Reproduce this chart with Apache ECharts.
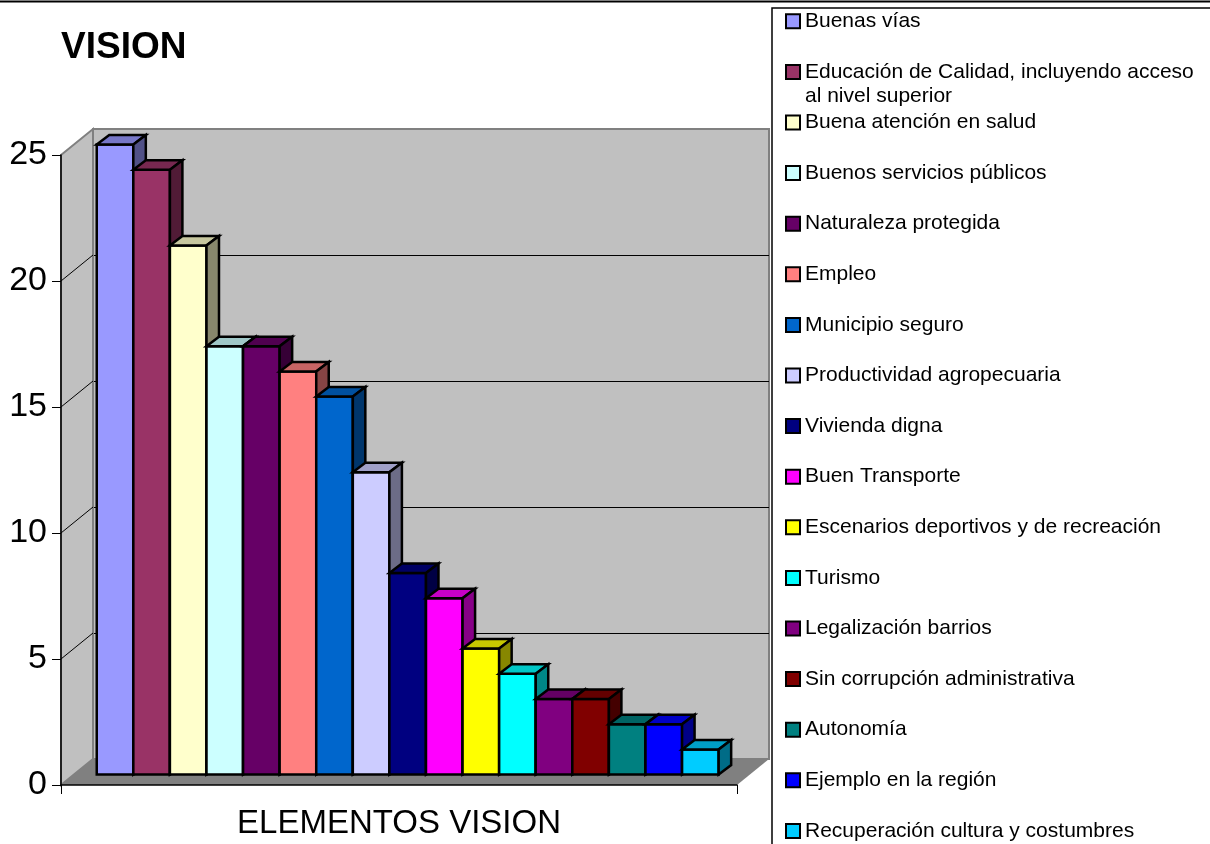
<!DOCTYPE html>
<html>
<head>
<meta charset="utf-8">
<title>VISION</title>
<script src="https://cdn.jsdelivr.net/npm/echarts@6/dist/echarts.min.js"></script>
<style>
html, body { margin: 0; padding: 0; background: #fff; }
#chart { width: 1210px; height: 844px; }
</style>
</head>
<body>
<div id="chart"></div>
<script>
// data
const CATEGORY = ['ELEMENTOS VISION'];
const NAMES = [
  'Buenas vías',
  'Educación de Calidad, incluyendo acceso al nivel superior',
  'Buena atención en salud',
  'Buenos servicios públicos',
  'Naturaleza protegida',
  'Empleo',
  'Municipio seguro',
  'Productividad agropecuaria',
  'Vivienda digna',
  'Buen Transporte',
  'Escenarios deportivos y de recreación',
  'Turismo',
  'Legalización barrios',
  'Sin corrupción administrativa',
  'Autonomía',
  'Ejemplo en la región',
  'Recuperación cultura y costumbres'
];
const VALUES = [25, 24, 21, 17, 17, 16, 15, 12, 8, 7, 5, 4, 3, 3, 2, 2, 1];
const Y_GRID = [5, 10, 15, 20];

const COLORS = ['#9999FF', '#993366', '#FFFFCC', '#CCFFFF', '#660066', '#FF8080', '#0066CC', '#CCCCFF',
  '#000080', '#FF00FF', '#FFFF00', '#00FFFF', '#800080', '#800000', '#008080', '#0000FF', '#00CCFF'];

const FONT = "'Liberation Sans', Arial, sans-serif";
const DEPTH = [32, -26];        // wall depth (oblique projection)
const BAR_FRONT = [8.7, -10.4]; // bars sit a bit behind the front edge
const BAR_DEPTH = [12.5, -9.5];
const BAR_SHARE = 0.92;

function shade(hex, k) {
  const n = parseInt(hex.slice(1), 16);
  const r = Math.round(((n >> 16) & 255) * k);
  const g = Math.round(((n >> 8) & 255) * k);
  const b = Math.round((n & 255) * k);
  return 'rgb(' + r + ',' + g + ',' + b + ')';
}

function wrap(name, maxChars) {
  const lines = [];
  let cur = '';
  name.split(' ').forEach(w => {
    if (cur && (cur + ' ' + w).length > maxChars) { lines.push(cur); cur = w; }
    else cur = cur ? cur + ' ' + w : w;
  });
  lines.push(cur);
  return lines;
}

function renderWalls(params, api) {
  const c = params.coordSys;
  const [dx, dy] = DEPTH;
  const yb = c.y + c.height;
  return {
    type: 'group',
    children: [
      { type: 'polygon', shape: { points: [[c.x, c.y], [c.x + dx, c.y + dy], [c.x + dx, yb + dy], [c.x, yb]] },
        style: { fill: '#c0c0c0', stroke: '#808080', lineWidth: 2 } },
      { type: 'polygon', shape: { points: [[c.x, yb], [c.x + dx, yb + dy], [c.x + c.width + dx, yb + dy], [c.x + c.width, yb]] },
        style: { fill: '#808080' } }
    ]
  };
}

function renderWallGrid(params, api) {
  const c = params.coordSys;
  const y = api.coord([0, api.value(1)])[1];
  return { type: 'line', shape: { x1: c.x, y1: y, x2: c.x + DEPTH[0], y2: y + DEPTH[1] },
    style: { stroke: '#000', lineWidth: 1 } };
}

function renderBar(params, api) {
  const idx = api.value(2);
  const base = api.coord([0, 0]);
  const top = api.coord([0, api.value(1)]);
  const band = api.size([1, 0])[0];
  const w = band * BAR_SHARE / NAMES.length;
  const x0 = base[0] - band * BAR_SHARE / 2 + idx * w + BAR_FRONT[0];
  const x1 = x0 + w;
  const yb = base[1] + BAR_FRONT[1];
  const yt = top[1] + BAR_FRONT[1];
  const [dx, dy] = BAR_DEPTH;
  const color = api.visual('color');
  const line = { stroke: '#000', lineWidth: 2.5 };
  return {
    type: 'group',
    children: [
      { type: 'polygon', shape: { points: [[x0, yb], [x1, yb], [x1, yt], [x0, yt]] },
        style: Object.assign({ fill: color }, line) },
      { type: 'polygon', shape: { points: [[x0, yt], [x1, yt], [x1 + dx, yt + dy], [x0 + dx, yt + dy]] },
        style: Object.assign({ fill: shade(color, 0.78) }, line) },
      { type: 'polygon', shape: { points: [[x1, yb], [x1 + dx, yb + dy], [x1 + dx, yt + dy], [x1, yt]] },
        style: Object.assign({ fill: shade(color, 0.53) }, line) }
    ]
  };
}

const chart = echarts.init(document.getElementById('chart'));

const series = [
  { name: 'walls', type: 'custom', xAxisIndex: 0, yAxisIndex: 0, z: 1, silent: true,
    renderItem: renderWalls, data: [[0, 0]] },
  { name: 'wallGrid', type: 'custom', xAxisIndex: 0, yAxisIndex: 0, z: 1, silent: true,
    renderItem: renderWallGrid, data: Y_GRID.map(v => [0, v]) }
];
NAMES.forEach((name, i) => {
  series.push({
    name: name,
    type: 'custom',
    xAxisIndex: 0,
    yAxisIndex: 0,
    z: 2,
    renderItem: renderBar,
    itemStyle: { color: COLORS[i] },
    data: [[0, VALUES[i], i]]
  });
});

const option = {
  animation: false,
  textStyle: { fontFamily: FONT },
  title: {
    text: 'VISION',
    left: 61,
    top: 29,
    padding: 0,
    textStyle: { fontFamily: FONT, fontSize: 37, fontWeight: 'bold', color: '#000' }
  },
  legend: {
    data: NAMES,
    orient: 'vertical',
    left: 785,
    top: -14.7,
    height: 1000,
    padding: 0,
    itemWidth: 14,
    itemHeight: 14,
    itemGap: -21.4,
    icon: 'rect',
    selectedMode: false,
    itemStyle: { borderColor: '#000', borderWidth: 2 },
    formatter: name => {
      const lines = wrap(name, 39);
      while (lines.length < 2) lines.push('');
      return '\n' + lines.join('\n');
    },
    textStyle: { fontFamily: FONT, fontSize: 21, lineHeight: 24, color: '#000' }
  },
  grid: [
    { left: 61, top: 155, width: 676, height: 630, show: false },
    { left: 61 + DEPTH[0], top: 155 + DEPTH[1], width: 676, height: 630, show: true,
      backgroundColor: '#c0c0c0', borderColor: '#808080', borderWidth: 2 }
  ],
  xAxis: [
    {
      type: 'category', gridIndex: 0, data: CATEGORY, z: 5,
      axisLine: { lineStyle: { color: '#000', width: 1.5 } },
      axisTick: { show: true, length: 9, lineStyle: { color: '#000' } },
      axisLabel: { fontFamily: FONT, fontSize: 33, color: '#000', margin: 22 }
    },
    { type: 'category', gridIndex: 1, data: CATEGORY, show: false }
  ],
  yAxis: [
    {
      type: 'value', gridIndex: 0, min: 0, max: 25, interval: 5, z: 5,
      axisLine: { show: true, lineStyle: { color: '#000', width: 1.5 } },
      axisTick: { show: true, length: 9, lineStyle: { color: '#000' } },
      axisLabel: { fontFamily: FONT, fontSize: 34, color: '#000', margin: 14 },
      splitLine: { show: false }
    },
    {
      type: 'value', gridIndex: 1, min: 0, max: 25, interval: 5,
      axisLine: { show: false }, axisTick: { show: false }, axisLabel: { show: false },
      splitLine: { show: true, lineStyle: { color: ['#808080', '#000', '#000', '#000', '#000', '#808080'], width: 1 } }
    }
  ],
  graphic: [
    { type: 'line', shape: { x1: 0, y1: 1.5, x2: 1210, y2: 1.5 }, style: { stroke: '#000', lineWidth: 2 } },
    { type: 'rect', shape: { x: 772, y: 8, width: 460, height: 900 },
      style: { fill: 'none', stroke: '#000', lineWidth: 1.5 } }
  ],
  color: COLORS,
  series: series
};

chart.setOption(option);
</script>
</body>
</html>
